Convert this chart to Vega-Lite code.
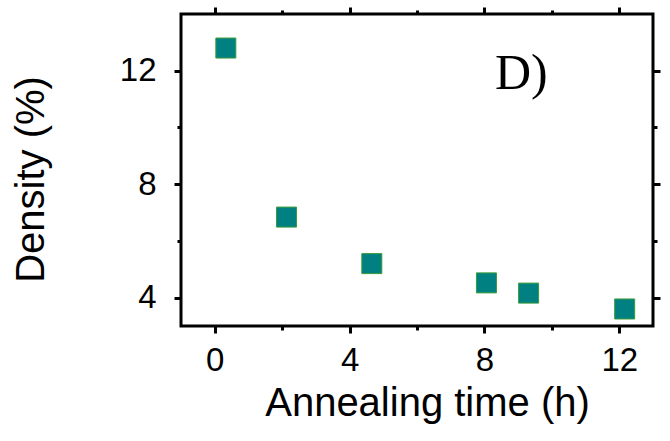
{
  "$schema": "https://vega.github.io/schema/vega-lite/v6.json",
  "width": 472,
  "height": 312,
  "autosize": "none",
  "padding": {"left": 181, "top": 14, "right": 17, "bottom": 115},
  "background": "white",
  "config": {
    "view": {"stroke": "black", "strokeWidth": 3},
    "axis": {"grid": false, "domain": false, "tickColor": "black", "tickWidth": 3, "labelFont": "Liberation Sans", "titleFont": "Liberation Sans", "labelColor": "black", "titleColor": "black", "labelFontSize": 33, "titleFontSize": 40, "titleFontWeight": "normal"}
  },
  "data": {"values": [
    {"t": 0.33, "d": 12.8},
    {"t": 2.13, "d": 6.84},
    {"t": 4.66, "d": 5.2},
    {"t": 8.06, "d": 4.52},
    {"t": 9.31, "d": 4.16},
    {"t": 12.16, "d": 3.6}
  ]},
  "layer": [
    {
      "mark": {"type": "point", "opacity": 0},
      "encoding": {
        "x": {"field": "t", "type": "quantitative", "scale": {"domain": [-1, 13], "nice": false, "zero": false},
          "axis": {"orient": "bottom", "values": [0, 4, 8, 12], "tickSize": 7, "labelPadding": 11, "title": "Annealing time (h)", "titleX": 246, "titleY": 89, "titleBaseline": "alphabetic", "titleAnchor": null}},
        "y": {"field": "d", "type": "quantitative", "scale": {"domain": [3, 14], "nice": false, "zero": false},
          "axis": {"orient": "left", "values": [4, 8, 12], "tickSize": 7, "labelPadding": 18, "title": "Density (%)", "titleX": -138, "titleY": 165, "titleBaseline": "alphabetic", "titleAngle": -90}}
      }
    },
    {
      "mark": {"type": "point", "opacity": 0},
      "encoding": {
        "x": {"field": "t", "type": "quantitative", "axis": {"orient": "bottom", "values": [2, 6, 10], "tickSize": 4, "labels": false, "title": null}},
        "y": {"field": "d", "type": "quantitative", "axis": {"orient": "left", "values": [6, 10], "tickSize": 4, "labels": false, "title": null}}
      }
    },
    {
      "mark": {"type": "point", "opacity": 0},
      "encoding": {
        "x": {"field": "t", "type": "quantitative", "axis": {"orient": "top", "values": [0, 4, 8, 12], "tickSize": 7, "labels": false, "title": null}},
        "y": {"field": "d", "type": "quantitative", "axis": {"orient": "right", "values": [4, 8, 12], "tickSize": 7, "labels": false, "title": null}}
      }
    },
    {
      "mark": {"type": "point", "opacity": 0},
      "encoding": {
        "x": {"field": "t", "type": "quantitative", "axis": {"orient": "top", "values": [2, 6, 10], "tickSize": 4, "labels": false, "title": null}},
        "y": {"field": "d", "type": "quantitative", "axis": {"orient": "right", "values": [6, 10], "tickSize": 4, "labels": false, "title": null}}
      }
    },
    {
      "mark": {"type": "square", "size": 400, "fill": "#008080", "filled": true, "opacity": 1, "stroke": "#3a9a3a", "strokeWidth": 1},
      "encoding": {
        "x": {"field": "t", "type": "quantitative", "axis": null},
        "y": {"field": "d", "type": "quantitative", "axis": null}
      }
    },
    {
      "data": {"values": [{"t": 8.31, "d": 11.37, "label": "D)"}]},
      "mark": {"type": "text", "font": "Liberation Serif", "fontSize": 50, "align": "left", "baseline": "alphabetic", "color": "black"},
      "encoding": {
        "x": {"field": "t", "type": "quantitative", "axis": null},
        "y": {"field": "d", "type": "quantitative", "axis": null},
        "text": {"field": "label"}
      }
    }
  ],
  "resolve": {"axis": {"x": "independent", "y": "independent"}}
}
